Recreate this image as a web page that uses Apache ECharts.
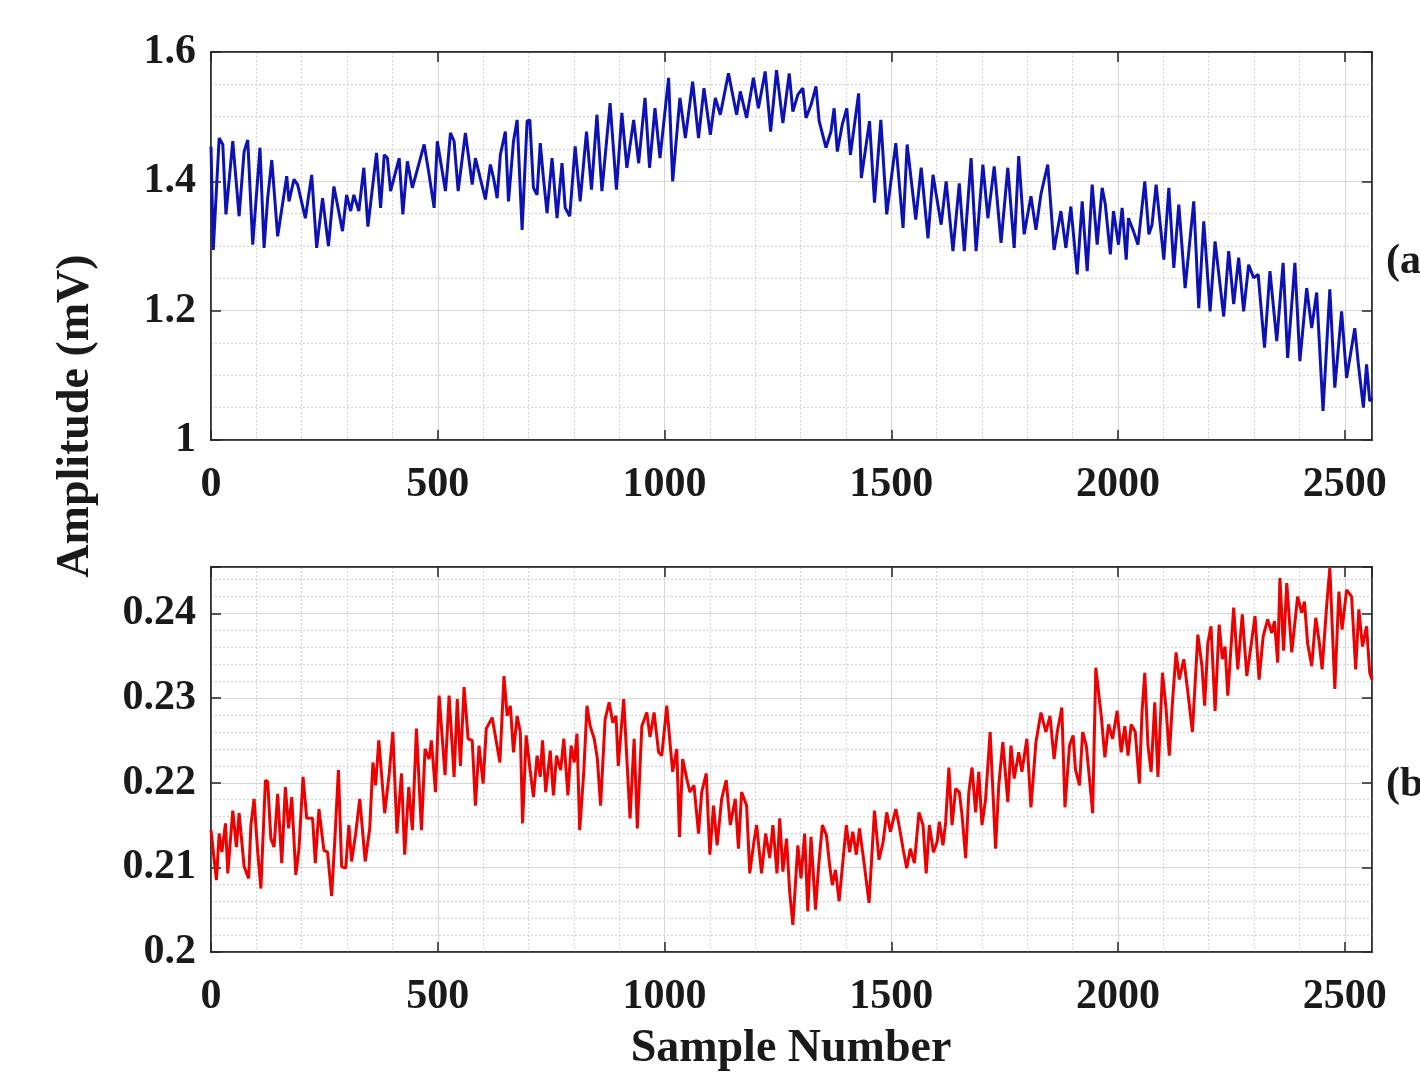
<!DOCTYPE html>
<html><head><meta charset="utf-8">
<script src="https://cdn.jsdelivr.net/npm/echarts@6/dist/echarts.min.js"></script>
<style>html,body{margin:0;padding:0;background:#fff}#c{width:1420px;height:1075px}</style>
</head><body><div id="c"></div>
<script>
// ---- data ----
const sampleRange = [0, 2560];
const xMajorStep = 500, xMinorStep = 100;
const topRange = [1, 1.6], topMajorStep = 0.2, topMinorStep = 0.05;
const botRange = [0.2, 0.2455], botMajorStep = 0.01, botMinorStep = 0.002;
const xAxisTitle = 'Sample Number';
const yAxisTitle = 'Amplitude (mV)';
const panelTags = ['(a)', '(b)'];

// (a) blue signal: [sample, amplitude mV]
const signalA = [
[0,1.454],[5,1.294],[18,1.467],[26,1.457],[33,1.349],[48,1.462],[51,1.464],[62,1.346],[73,1.446],[81,1.464],
[92,1.302],[108,1.452],[117,1.297],[125,1.374],[134,1.433],[147,1.315],[167,1.408],[172,1.369],[183,1.403],[191,1.395],
[208,1.343],[222,1.410],[233,1.297],[246,1.374],[259,1.300],[271,1.392],[290,1.323],[299,1.379],[308,1.354],[315,1.379],
[326,1.354],[337,1.421],[346,1.330],[365,1.444],[374,1.359],[382,1.441],[389,1.436],[396,1.385],[415,1.436],[423,1.349],
[433,1.431],[444,1.390],[470,1.457],[481,1.410],[492,1.359],[499,1.462],[517,1.385],[528,1.475],[536,1.462],[545,1.385],
[561,1.475],[576,1.395],[583,1.436],[605,1.372],
[616,1.426],[623,1.405],[631,1.374],[638,1.441],[649,1.477],[656,1.369],[667,1.462],[675,1.495],[686,1.325],[697,1.493],[703,1.495],[711,1.390],[719,1.379],[726,1.459],[733,1.405],[741,1.351],[752,1.436],[763,1.343],[774,1.428],[781,1.359],[791,1.346],[803,1.454],[814,1.369],[828,1.477],[839,1.387],[851,1.503],[862,1.385],[880,1.521],[894,1.387],[906,1.506],[917,1.421],[932,1.495],[943,1.428],[957,1.529],[967,1.421],[979,1.513],[990,1.436],[1009,1.560],[1018,1.400],[1034,1.529],[1046,1.467],[1062,1.554],[1075,1.467],[1087,1.544],[1101,1.472],[1112,1.529],[1123,1.503],[1141,1.567],[1159,1.503],[1167,1.539],[1181,1.498],[1196,1.560],[1207,1.513],[1222,1.570],[1234,1.477],[1247,1.572],
[1261,1.490],[1275,1.567],[1283,1.508],[1294,1.534],[1305,1.544],[1312,1.498],[1323,1.518],[1334,1.547],[1341,1.493],[1356,1.452],[1367,1.477],[1374,1.513],[1381,1.446],[1392,1.488],[1402,1.513],[1410,1.441],[1428,1.536],[1434,1.405],[1452,1.493],[1463,1.367],[1477,1.495],[1490,1.349],[1510,1.459],[1526,1.328],[1535,1.457],[1554,1.341],[1566,1.421],[1581,1.312],[1592,1.410],[1610,1.333],[1621,1.400],[1636,1.292],[1650,1.397],[1661,1.292],[1676,1.436],[1687,1.292],[1702,1.426],[1713,1.343],[1727,1.423],[1742,1.305],[1757,1.421],[1771,1.297],[1781,1.439],[1793,1.318],[1808,1.377],[1819,1.325],[1830,1.380],[1845,1.426],[1859,1.294],[1874,1.354],[1885,1.297],[1896,1.361],
[1910,1.256],[1921,1.369],[1932,1.261],[1943,1.395],[1954,1.302],[1965,1.390],[1972,1.364],[1983,1.287],[1990,1.354],[2001,1.302],[2009,1.359],[2018,1.279],[2023,1.343],[2034,1.323],[2044,1.302],[2059,1.400],[2068,1.318],[2075,1.333],[2084,1.395],[2101,1.279],[2112,1.390],[2123,1.266],[2134,1.364],[2148,1.235],[2167,1.369],[2178,1.204],[2189,1.338],[2203,1.199],[2214,1.307],[2233,1.191],[2244,1.292],[2255,1.210],[2266,1.282],[2277,1.199],[2288,1.271],[2299,1.251],[2309,1.256],[2323,1.143],[2335,1.261],[2350,1.153],[2364,1.274],[2374,1.127],[2390,1.274],[2401,1.122],[2416,1.235],[2427,1.173],[2438,1.228],[2452,1.045],[2467,1.233],[2478,1.081],[2493,1.199],[2504,1.096],[2522,1.173],[2530,1.117],[2541,1.050],[2548,1.117],[2555,1.060],[2560,1.065]
];

// (b) red signal: [sample, amplitude mV]
const signalB = [
[0,0.2144],[7,0.2109],[12,0.2085],[18,0.2140],[24,0.2118],[32,0.2152],[37,0.2093],[48,0.2167],[56,0.2124],[62,0.2164],[73,0.2101],[83,0.2087],[88,0.2150],[95,0.2181],[103,0.2118],[110,0.2075],[120,0.2203],[125,0.2201],[132,0.2134],[139,0.2124],[147,0.2187],[156,0.2105],[164,0.2195],[171,0.2146],[178,0.2183],[187,0.2091],[194,0.2122],[203,0.2207],[211,0.2158],[224,0.2158],[230,0.2105],[238,0.2169],[249,0.2120],[257,0.2118],[266,0.2066],[273,0.2132],[281,0.2215],[288,0.2101],[297,0.2099],[304,0.2150],[310,0.2107],[319,0.2140],[328,0.2181],[340,0.2107],[350,0.2146],[357,0.2224],[363,0.2197],[370,0.2250],[383,0.2164],[393,0.2211],[401,0.2260],[410,0.2140],[420,0.2211],[427,0.2115],[436,0.2195],[444,0.2144],[453,0.2264],[464,0.2144],[472,0.2240],[481,0.2228],[486,0.2250],[495,0.2189],[503,0.2303],[516,0.2209],[525,0.2303],[536,0.2207],[543,0.2299],[550,0.2220],[558,0.2313],[567,0.2252],[576,0.2250],[583,0.2173],[591,0.2244],[600,0.2199],[607,0.2264],[620,0.2277],
[637,0.2224],[646,0.2326],[653,0.2279],[660,0.2291],[667,0.2236],[675,0.2279],[682,0.2260],[687,0.2152],[695,0.2256],[703,0.2218],[711,0.2183],[719,0.2232],[726,0.2207],[731,0.2250],[738,0.2189],[748,0.2238],[755,0.2185],[762,0.2232],[771,0.2215],[778,0.2252],[787,0.2185],[794,0.2244],[801,0.2224],[807,0.2258],[813,0.2144],[822,0.2213],[829,0.2291],[836,0.2267],[845,0.2252],[852,0.2228],[859,0.2173],[869,0.2275],[878,0.2295],[886,0.2271],[893,0.2279],[898,0.2220],[910,0.2299],[917,0.2228],[924,0.2158],[933,0.2252],[940,0.2146],[950,0.2267],[961,0.2283],[968,0.2254],[977,0.2283],[987,0.2236],[994,0.2232],[1005,0.2291],[1014,0.2236],[1018,0.2213],[1027,0.2240],[1033,0.2136],[1040,0.2228],[1049,0.2205],[1056,0.2189],[1065,0.2197],[1075,0.2140],[1082,0.2189],[1092,0.2211],[1100,0.2115],[1108,0.2173],[1116,0.2126],[1126,0.2181],[1136,0.2203],[1145,0.2150],[1156,0.2181],[1163,0.2122],[1170,0.2189],[1181,0.2173],[1188,0.2093],[1196,0.2126],[1203,0.2150],[1214,0.2093],[1223,0.2140],[1232,0.2111],[1239,0.2150],[1248,0.2093],
[1254,0.2158],[1261,0.2095],[1269,0.2134],[1276,0.2071],[1283,0.2032],[1289,0.2083],[1294,0.2126],[1301,0.2087],[1309,0.2140],[1316,0.2048],[1323,0.2136],[1333,0.2050],[1340,0.2103],[1348,0.2150],[1357,0.2138],[1364,0.2103],[1370,0.2079],[1377,0.2097],[1385,0.2060],[1394,0.2111],[1401,0.2150],[1408,0.2118],[1415,0.2142],[1423,0.2115],[1430,0.2146],[1441,0.2101],[1451,0.2058],[1463,0.2167],[1473,0.2109],[1482,0.2130],[1490,0.2165],[1498,0.2142],[1510,0.2169],[1517,0.2150],[1526,0.2122],[1534,0.2099],[1542,0.2122],[1551,0.2105],[1561,0.2165],[1570,0.2150],[1577,0.2093],[1584,0.2150],[1593,0.2118],[1601,0.2130],[1606,0.2154],[1614,0.2126],[1620,0.2154],[1627,0.2218],[1634,0.2150],[1642,0.2193],[1650,0.2189],[1656,0.2162],[1664,0.2111],[1671,0.2189],[1678,0.2218],[1686,0.2165],[1693,0.2213],[1700,0.2150],[1708,0.2181],[1718,0.2260],[1730,0.2122],[1737,0.2197],[1746,0.2248],[1757,0.2177],[1764,0.2244],[1771,0.2205],[1781,0.2236],[1788,0.2213],[1799,0.2252],[1808,0.2171],[1819,0.2248],[1830,0.2283],[1841,0.2260],[1850,0.2279],[1859,0.2228],[1866,0.2260],[1876,0.2289],[1883,0.2171],[1893,0.2244],[1901,0.2256],
[1906,0.2216],[1915,0.2197],[1922,0.2260],[1930,0.2244],[1937,0.2205],[1944,0.2164],[1951,0.2336],[1957,0.2307],[1963,0.2279],[1971,0.2230],[1979,0.2269],[1988,0.2252],[1998,0.2285],[2007,0.2236],[2015,0.2267],[2022,0.2232],[2029,0.2269],[2038,0.2260],[2047,0.2199],[2053,0.2285],[2059,0.2330],[2066,0.2244],[2073,0.2213],[2081,0.2295],[2088,0.2207],[2098,0.2330],[2106,0.2287],[2113,0.2232],[2120,0.2295],[2128,0.2354],[2135,0.2322],[2145,0.2346],[2154,0.2307],[2164,0.2260],[2176,0.2375],[2185,0.2338],[2191,0.2291],[2198,0.2365],[2205,0.2385],[2214,0.2285],[2223,0.2387],[2230,0.2346],[2236,0.2361],[2242,0.2303],[2255,0.2407],[2264,0.2334],[2274,0.2399],[2284,0.2326],[2293,0.2361],[2302,0.2397],[2311,0.2322],[2320,0.2373],[2330,0.2393],[2339,0.2377],[2345,0.2391],[2352,0.2342],[2357,0.2442],[2365,0.2356],[2372,0.2436],[2383,0.2354],[2396,0.2420],[2405,0.2401],[2411,0.2414],[2418,0.2365],[2427,0.2338],[2436,0.2395],[2443,0.2369],[2450,0.2334],[2460,0.2409],[2467,0.2454],[2478,0.2311],[2487,0.2426],[2494,0.2381],[2504,0.2428],[2515,0.2420],[2524,0.2334],[2531,0.2405],[2539,0.2361],[2548,0.2385],[2555,0.2330],[2560,0.2322]
];

// ---- chart ----
const FONT = '"Liberation Serif","Times New Roman",serif';
const AX = '#262626';
const labelStyle = {fontFamily: FONT, fontWeight: 'bold', fontSize: 42, color: '#1a1a1a'};
const majorGrid = {show: true, lineStyle: {color: '#dcdcdc', width: 1, type: 'solid'}};
const minorGrid = {show: true, lineStyle: {color: '#d2d2d2', width: 1, type: [2, 2]}};
const tick = {show: true, inside: true, length: 10, lineStyle: {color: AX, width: 1.5}};
const axLine = {show: true, onZero: false, lineStyle: {color: AX, width: 1.5}};

function xAxes(gi) {
  return [
    {gridIndex: gi, type: 'value', min: sampleRange[0], max: sampleRange[1], interval: xMajorStep, position: 'bottom',
     axisLine: axLine, axisTick: tick, splitLine: majorGrid,
     axisLabel: Object.assign({margin: 24, showMaxLabel: false, formatter: v => (v % xMajorStep === 0 ? String(v) : '')}, labelStyle)},
    {gridIndex: gi, type: 'value', min: sampleRange[0], max: sampleRange[1], interval: xMinorStep, position: 'bottom',
     axisLine: {show: false}, axisTick: {show: false}, axisLabel: {show: false}, splitLine: minorGrid, z: 0},
    {gridIndex: gi, type: 'value', min: sampleRange[0], max: sampleRange[1], interval: xMajorStep, position: 'top',
     axisLine: axLine, axisTick: tick, axisLabel: {show: false}, splitLine: {show: false}}
  ];
}
function yAxes(gi, range, major, minor, digits) {
  const fmt = v => {
    const k = Math.round((v - range[0]) / major);
    if (Math.abs(range[0] + k * major - v) > 1e-9) return '';
    return String(parseFloat(v.toFixed(digits)));
  };
  return [
    {gridIndex: gi, type: 'value', min: range[0], max: range[1], interval: major, position: 'left',
     axisLine: axLine, axisTick: tick, splitLine: majorGrid,
     axisLabel: Object.assign({margin: 15, verticalAlign: 'middle', lineHeight: 42, padding: [16, 0, 0, 0], formatter: fmt}, labelStyle)},
    {gridIndex: gi, type: 'value', min: range[0], max: range[1], interval: minor, position: 'left',
     axisLine: {show: false}, axisTick: {show: false}, axisLabel: {show: false}, splitLine: minorGrid, z: 0},
    {gridIndex: gi, type: 'value', min: range[0], max: range[1], interval: major, position: 'right',
     axisLine: axLine, axisTick: tick, axisLabel: {show: false}, splitLine: {show: false}}
  ];
}

const chart = echarts.init(document.getElementById('c'), null, {renderer: 'canvas'});
chart.setOption({
  animation: false,
  backgroundColor: '#ffffff',
  grid: [
    {left: 211, top: 52, width: 1161, height: 388, show: true, borderColor: AX, borderWidth: 1.5, outerBoundsMode: 'none'},
    {left: 211, top: 567, width: 1161, height: 385, show: true, borderColor: AX, borderWidth: 1.5, outerBoundsMode: 'none'}
  ],
  xAxis: xAxes(0).concat(xAxes(1)),
  yAxis: yAxes(0, topRange, topMajorStep, topMinorStep, 2).concat(yAxes(1, botRange, botMajorStep, botMinorStep, 3)),
  series: [
    {type: 'line', xAxisIndex: 0, yAxisIndex: 0, data: signalA, showSymbol: false, symbol: 'none',
     lineStyle: {color: '#0d12b5', width: 3}, clip: true, z: 5},
    {type: 'line', xAxisIndex: 3, yAxisIndex: 3, data: signalB, showSymbol: false, symbol: 'none',
     lineStyle: {color: '#ee0000', width: 3}, clip: true, z: 5}
  ],
  graphic: [
    {type: 'text', x: 76, y: 416, rotation: Math.PI / 2,
     style: {text: yAxisTitle, font: 'bold 46px ' + FONT, fill: '#1a1a1a', textAlign: 'center', textVerticalAlign: 'middle'}},
    {type: 'text', x: 791, y: 1049,
     style: {text: xAxisTitle, font: 'bold 46px ' + FONT, fill: '#1a1a1a', textAlign: 'center', textVerticalAlign: 'middle'}},
    {type: 'text', x: 1386, y: 262,
     style: {text: panelTags[0], font: 'bold 42px ' + FONT, fill: '#1a1a1a', textAlign: 'left', textVerticalAlign: 'middle'}},
    {type: 'text', x: 1386, y: 785,
     style: {text: panelTags[1], font: 'bold 42px ' + FONT, fill: '#1a1a1a', textAlign: 'left', textVerticalAlign: 'middle'}}
  ]
});
</script>
</body></html>
